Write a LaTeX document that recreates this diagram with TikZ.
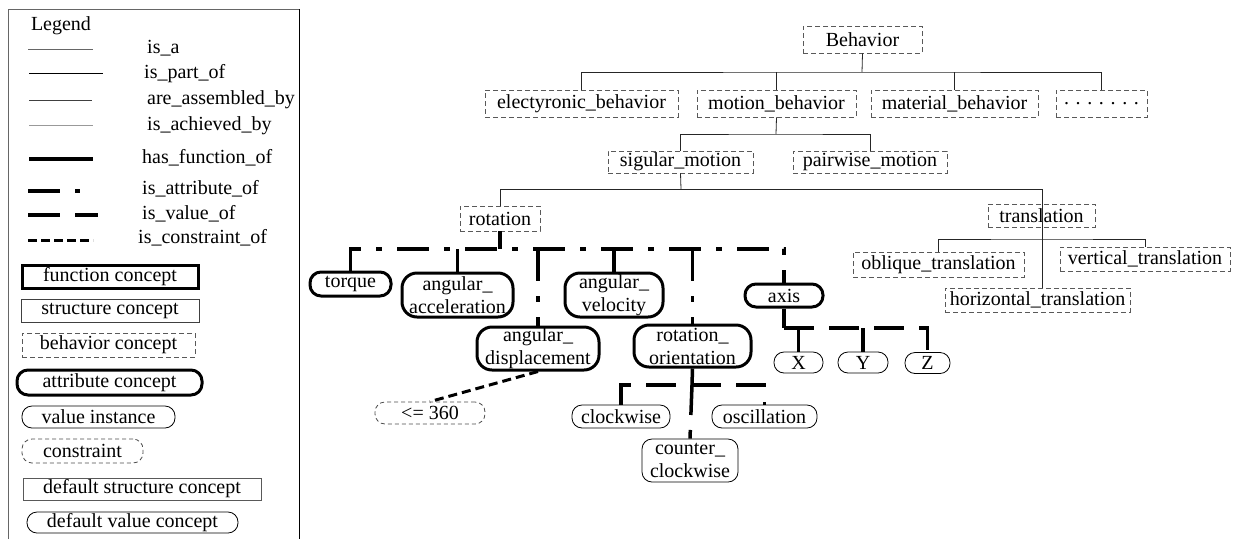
\documentclass[tikz,border=0pt]{standalone}
\usepackage{fontspec}
\setmainfont{Liberation Serif}
\newcommand\bnode[7]{\node[#1, minimum width=#5pt, minimum height=#6pt] (#2) at (#3,#4) {#7};}
\begin{document}
\begin{tikzpicture}[x=1pt,y=-1pt,
  every node/.style={font=\fontsize{20}{23}\selectfont, inner sep=0pt, align=center},
  behavbox/.style={draw=black!65, line width=0.8pt, dash pattern=on 5pt off 3pt},
  attrbox/.style={draw, line width=3pt, rounded corners=11pt},
  attrboxtwo/.style={draw, line width=3pt, rounded corners=15pt},
  valbox/.style={draw, line width=0.8pt, rounded corners=10pt},
  consbox/.style={draw=black!70, line width=0.8pt, rounded corners=10pt, dash pattern=on 4pt off 3pt},
  funcbox/.style={draw, line width=3pt},
  structbox/.style={draw=black!75, line width=0.8pt},
  legtext/.style={anchor=west, text height=13pt, text depth=4pt},
  isaline/.style={line width=0.8pt, draw=black!85},
  attrline/.style={line width=3.5pt, dash pattern=on 32pt off 15pt on 6pt off 15pt},
  valline/.style={line width=3.5pt, dash pattern=on 30pt off 15pt},
  consline/.style={line width=3pt, dash pattern=on 9pt off 5pt},
  funcline/.style={line width=3.5pt}
]
\useasboundingbox (0,0) rectangle (1236,539);

% ---------- Legend ----------
\draw[draw=black!60, line width=0.8pt] (8,539) -- (8,9) -- (299,9);
\draw[line width=0.8pt] (299,9) -- (299,539);
\node (legtitle) at (61,26) {Legend};
\draw[line width=0.7pt, draw=black!60] (28,49) -- (93,49);
\node[legtext] (l1) at (147,49) {is\_a};
\draw[line width=0.8pt] (29,73) -- (103,73);
\node[legtext] (l2) at (144,74) {is\_part\_of};
\draw[line width=0.7pt, draw=black!75] (29,100) -- (92,100);
\node[legtext] (l3) at (147,100) {are\_assembled\_by};
\draw[line width=0.7pt, draw=black!40] (29,125) -- (93,125);
\node[legtext] (l4) at (147,126) {is\_achieved\_by};
\draw[funcline] (29,159) -- (93,159);
\node[legtext] (l5) at (142,159) {has\_function\_of};
\draw[line width=3.5pt] (28,191) -- (60,191) (75,191) -- (80,191);
\node[legtext] (l6) at (142,190) {is\_attribute\_of};
\draw[line width=3.5pt] (28,215) -- (60,215) (75,215) -- (98,215);
\node[legtext] (l7) at (142,215) {is\_value\_of};
\draw[line width=3pt, dash pattern=on 9pt off 4pt] (28,240) -- (93,240);
\node[legtext] (l8) at (138,239) {is\_constraint\_of};

\bnode{funcbox}{lfunc}{110}{276.5}{176}{23}{function concept}
\bnode{structbox}{lstruct}{110}{310.5}{178}{23}{structure concept}
\bnode{behavbox}{lbehav}{108.5}{345}{173}{24}{behavior concept}
\bnode{attrbox}{lattr}{109.5}{382.5}{185}{25}{attribute concept}
\bnode{valbox}{lval}{98.5}{417}{153}{22}{value instance}
\bnode{consbox}{lcons}{82.5}{451}{121}{24}{constraint}
\bnode{structbox, draw=black!65}{ldstruct}{142}{489}{238}{22}{default structure concept}
\bnode{valbox}{ldval}{132.5}{522.5}{211}{21}{default value concept}

% ---------- Behavior tree ----------
\bnode{behavbox}{beh}{862.5}{39.5}{119}{27}{Behavior}
\bnode{behavbox}{elec}{581.5}{103.5}{193}{27}{electyronic\_behavior}
\bnode{behavbox}{motion}{776.5}{103.5}{159}{27}{motion\_behavior}
\bnode{behavbox}{mater}{954.5}{103.5}{167}{27}{material\_behavior}
\bnode{behavbox}{dots}{1101.5}{103.5}{91}{27}{. . . . . . .}
\bnode{behavbox}{sig}{680.5}{162}{145}{22}{sigular\_motion}
\bnode{behavbox}{pair}{870}{162}{154}{22}{pairwise\_motion}
\bnode{behavbox}{rot}{500}{218.5}{80}{25}{rotation}
\bnode{behavbox}{trans}{1041.5}{215.5}{107}{23}{translation}
\bnode{behavbox}{obl}{938.5}{264.5}{171}{25}{oblique\_translation}
\bnode{behavbox}{vtr}{1145}{259}{170}{24}{vertical\_translation}
\bnode{behavbox}{htr}{1037.5}{300}{185}{24}{horizontal\_translation}

\coordinate (bj) at (862,72);
\coordinate (mj) at (776,134);
\coordinate (sj) at (681,189);
\coordinate (tr) at (1042,189);
\coordinate (tj) at (1042,239);

\draw[isaline] (beh.south) -- (bj);
\draw[isaline] (elec.north) |- (bj) -| (dots.north);
\draw[isaline] (motion.north) -- (motion.north |- bj);
\draw[isaline] (mater.north) -- (mater.north |- bj);
\draw[isaline] (motion.south) -- (mj);
\draw[isaline] (sig.north) |- (mj) -| (pair.north);
\draw[isaline] (sig.south) -- (sj);
\draw[isaline] (rot.north) |- (tr) -- (tr |- htr.north);
\draw[isaline] (obl.north) |- (tj) -| (vtr.north);

% ---------- Rotation attributes ----------
\bnode{attrbox}{torque}{350.5}{284}{81}{24}{torque}
\bnode{attrboxtwo}{acc}{457.5}{295}{111}{44}{angular\_\\acceleration}
\bnode{attrboxtwo}{disp}{538}{348.5}{122}{43}{angular\_\\displacement}
\bnode{attrboxtwo}{vel}{614}{295}{98}{44}{angular\_\\velocity}
\bnode{attrboxtwo}{rotor}{692.5}{346}{117}{42}{rotation\_\\orientation}
\bnode{attrbox}{axis}{784}{295.5}{78}{23}{axis}

\bnode{valbox}{X}{798.5}{362.5}{49}{21}{X}
\bnode{valbox}{Y}{863}{362.5}{50}{21}{Y}
\bnode{valbox}{Z}{927.5}{363}{45}{21}{Z}
\bnode{consbox}{le}{430}{413}{110}{22}{<= 360}
\bnode{valbox}{cw}{621}{416.5}{98}{23}{clockwise}
\bnode{valbox}{osc}{764.5}{416.5}{105}{23}{oscillation}
\bnode{valbox}{ccw}{690}{460.5}{96}{43}{counter\_\\clockwise}

\coordinate (rj) at (500,249);
\coordinate (aj) at (784,328);
\coordinate (oj) at (692,385);

\draw[funcline] (rot.south) -- (rj);
\draw[attrline] (torque.north) |- (rj) -| (axis.north);
\draw[attrline] (rj -| acc.north) -- (acc.north);
\draw[attrline] (rj -| disp.north) -- (disp.north);
\draw[attrline] (rj -| vel.north) -- (vel.north);
\draw[attrline] (rj -| rotor.north) -- (rotor.north);

\draw[funcline] (axis.south) -- (aj);
\draw[valline] (aj) -| (Z.north);
\draw[valline] (aj -| X.north) -- (X.north);
\draw[valline] (aj -| Y.north) -- (Y.north);

\draw[funcline] (rotor.south) -- (oj);
\draw[valline] (cw.north) |- (oj) -| (osc.north);
\draw[valline] (oj) -- (ccw.north);

\draw[consline] (disp.south) -- (le.north);
\end{tikzpicture}
\end{document}
